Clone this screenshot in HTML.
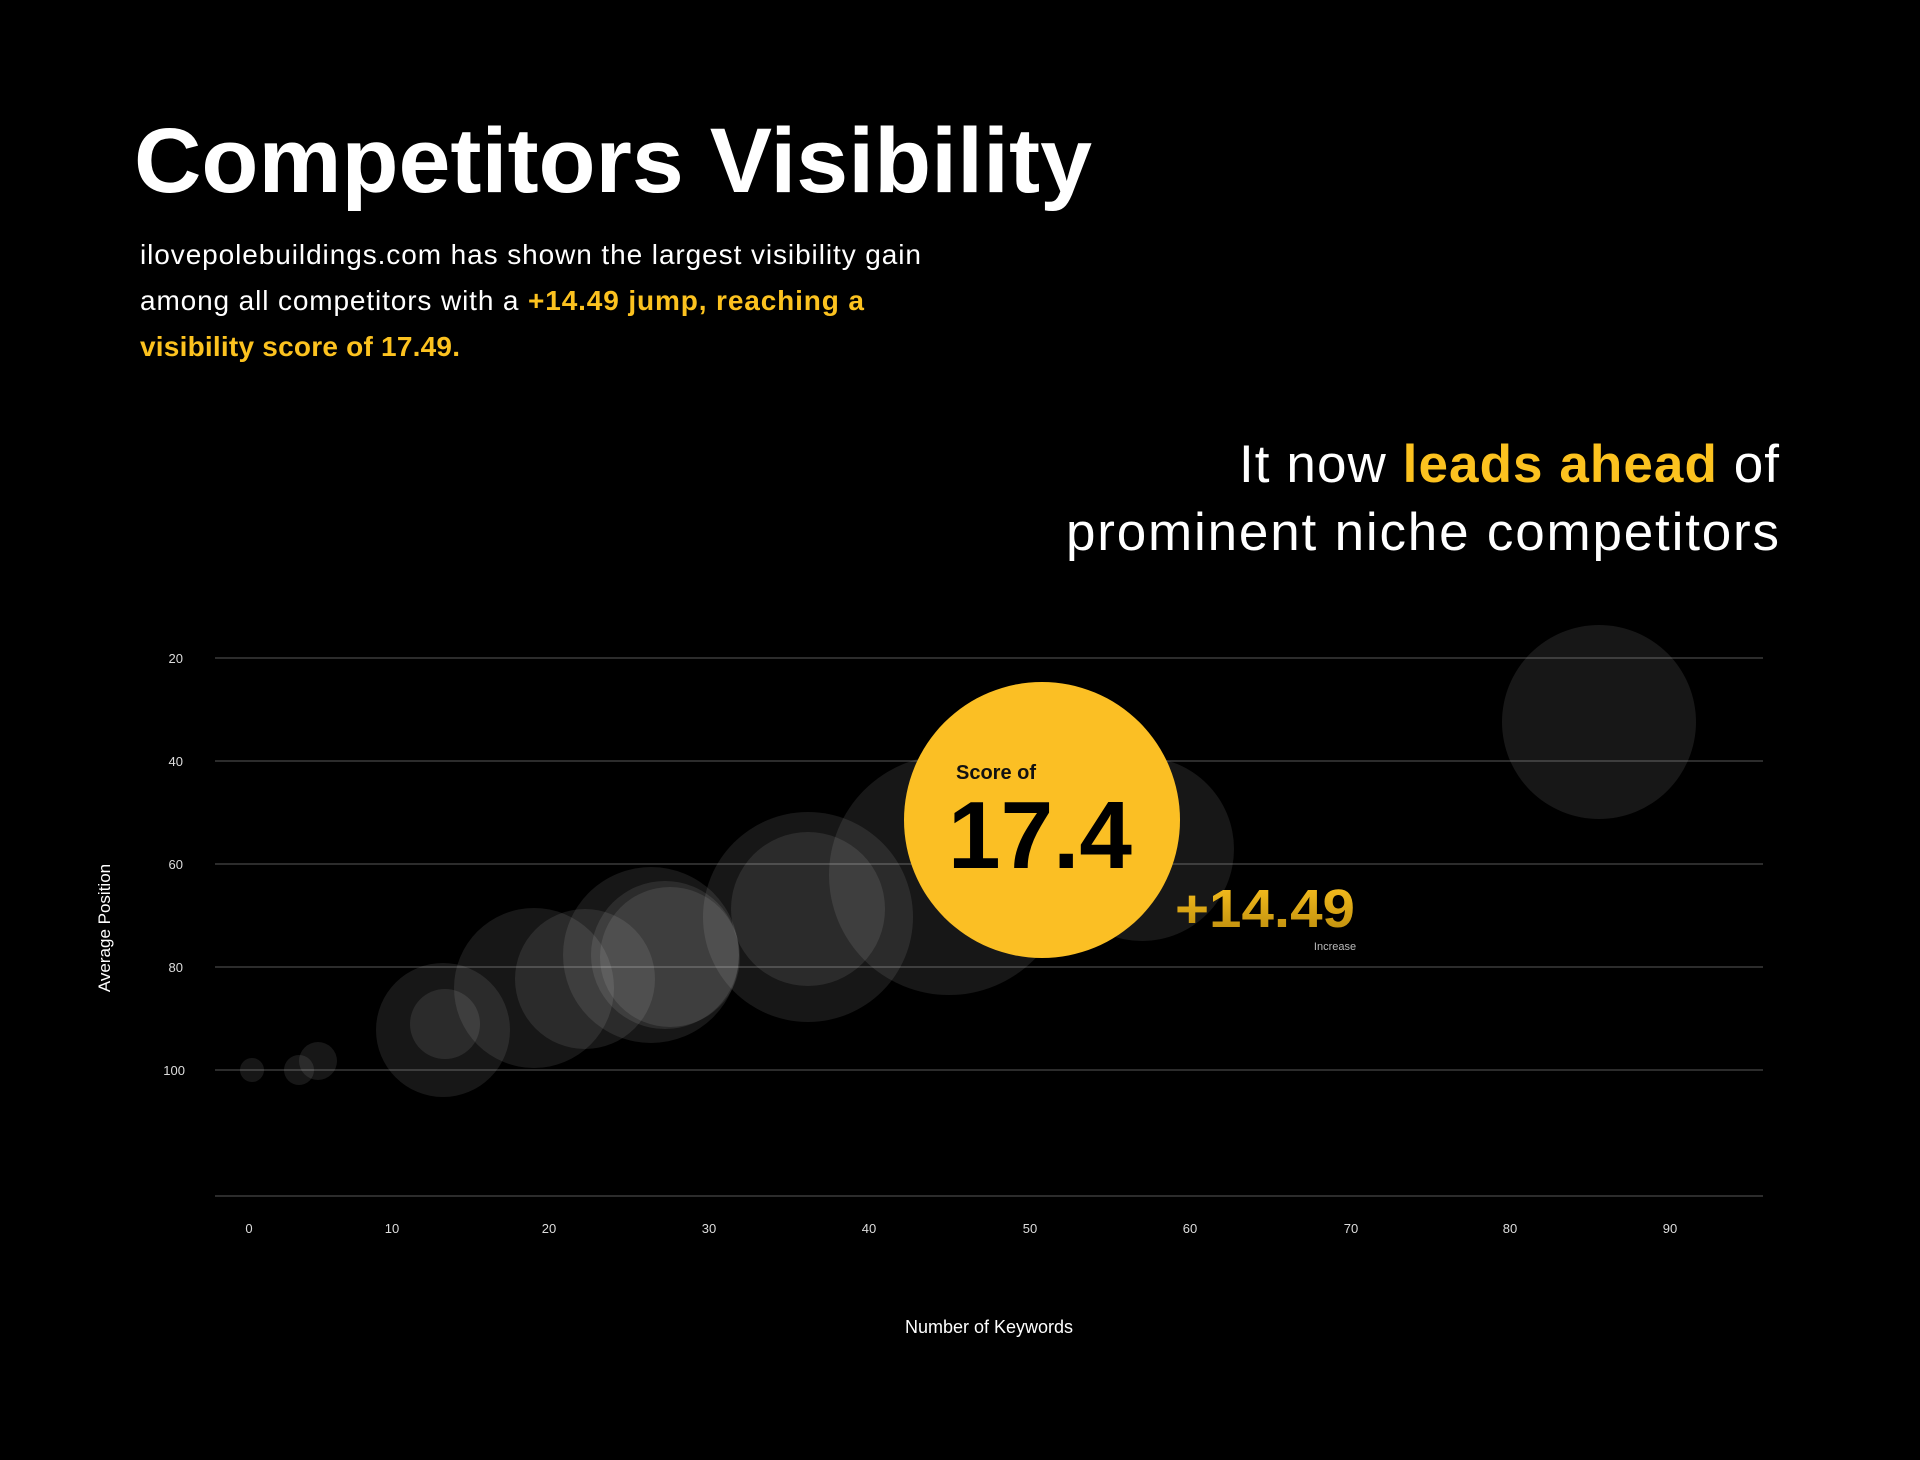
<!DOCTYPE html>
<html><head><meta charset="utf-8"><style>
html,body{margin:0;padding:0;background:#000;}
svg{display:block}
</style></head><body>
<svg width="1920" height="1460" viewBox="0 0 1920 1460" xmlns="http://www.w3.org/2000/svg" font-family="Liberation Sans, sans-serif">
<defs>
<linearGradient id="g" x1="0" y1="0" x2="0" y2="1"><stop offset="0" stop-color="#fcc21f"/><stop offset="1" stop-color="#b98a0c"/></linearGradient>
</defs>
<rect width="1920" height="1460" fill="#000"/>
<text x="134" y="192" font-size="92" font-weight="bold" fill="#fff" textLength="958" lengthAdjust="spacingAndGlyphs">Competitors Visibility</text>
<g font-size="28" fill="#fff">
<text x="140" y="264" textLength="781">ilovepolebuildings.com has shown the largest visibility gain</text>
<text x="140" y="310" textLength="724">among all competitors with a <tspan fill="#fcc21f" font-weight="bold">+14.49 jump, reaching a</tspan></text>
<text x="140" y="356" fill="#fcc21f" font-weight="bold" textLength="320">visibility score of 17.49.</text>
</g>
<g font-size="53" fill="#fff" text-anchor="end">
<text x="1779" y="482" textLength="540">It now <tspan fill="#fcc21f" font-weight="bold">leads ahead</tspan> of</text>
<text x="1779" y="550" textLength="713">prominent niche competitors</text>
</g>
<g stroke="#3a3a3a" stroke-width="1.5">
<line x1="215" y1="658" x2="1763" y2="658"/>
<line x1="215" y1="761" x2="1763" y2="761"/>
<line x1="215" y1="864" x2="1763" y2="864"/>
<line x1="215" y1="967" x2="1763" y2="967"/>
<line x1="215" y1="1070" x2="1763" y2="1070"/>
<line x1="215" y1="1196" x2="1763" y2="1196"/>
</g>
<g font-size="13" fill="#ddd" text-anchor="end">
<text x="183" y="663">20</text><text x="183" y="766">40</text><text x="183" y="869">60</text><text x="183" y="972">80</text><text x="185" y="1075">100</text>
</g>
<g font-size="13" fill="#ddd" text-anchor="middle">
<text x="249" y="1233">0</text><text x="392" y="1233">10</text><text x="549" y="1233">20</text><text x="709" y="1233">30</text><text x="869" y="1233">40</text><text x="1030" y="1233">50</text><text x="1190" y="1233">60</text><text x="1351" y="1233">70</text><text x="1510" y="1233">80</text><text x="1670" y="1233">90</text>
</g>
<text x="989" y="1333" font-size="18" fill="#fff" text-anchor="middle">Number of Keywords</text>
<text transform="translate(110,928) rotate(-90)" font-size="17" fill="#fff" text-anchor="middle">Average Position</text>
<g fill="#fff" fill-opacity="0.09">
<circle cx="252" cy="1070" r="12"/>
<circle cx="299" cy="1070" r="15"/>
<circle cx="318" cy="1061" r="19"/>
<circle cx="443" cy="1030" r="67"/>
<circle cx="445" cy="1024" r="35"/>
<circle cx="534" cy="988" r="80"/>
<circle cx="585" cy="979" r="70"/>
<circle cx="651" cy="955" r="88"/>
<circle cx="665" cy="955" r="74"/>
<circle cx="670" cy="957" r="70"/>
<circle cx="808" cy="917" r="105"/>
<circle cx="808" cy="909" r="77"/>
<circle cx="949" cy="875" r="120"/>
<circle cx="1142" cy="849" r="92"/>
<circle cx="1599" cy="722" r="97"/>
</g>
<circle cx="1042" cy="820" r="138" fill="#fbbf24"/>
<text x="956" y="779" font-size="20" font-weight="bold" fill="#111">Score of</text>
<text x="948" y="868" font-size="96" font-weight="bold" fill="#000" textLength="184" lengthAdjust="spacingAndGlyphs">17.4</text>
<text x="1175" y="927" font-size="54" font-weight="bold" fill="url(#g)" textLength="180" lengthAdjust="spacingAndGlyphs">+14.49</text>
<text x="1335" y="950" font-size="11" fill="#bbb" text-anchor="middle">Increase</text>
</svg>
</body></html>
